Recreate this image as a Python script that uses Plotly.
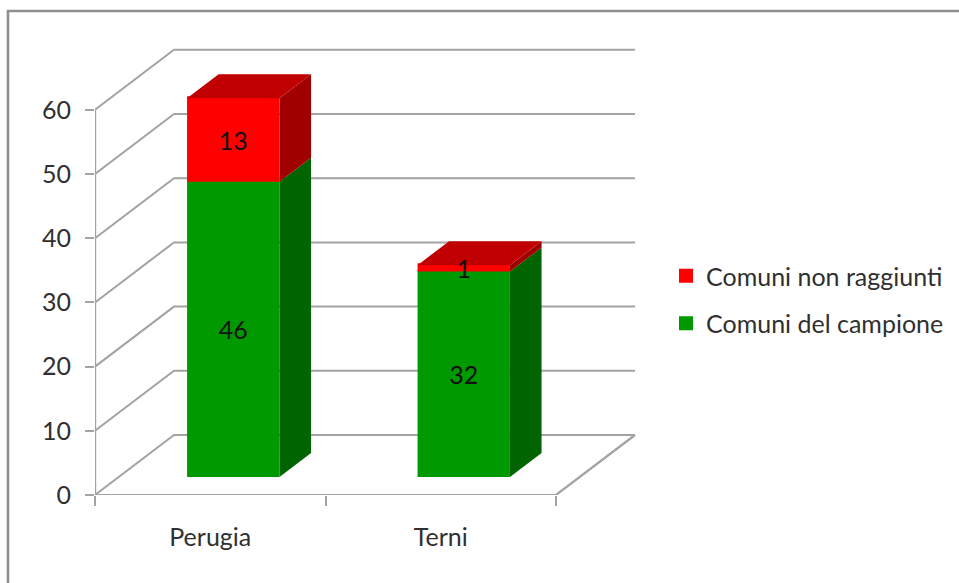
import plotly.graph_objects as go

categories = ["Perugia", "Terni"]
comuni_campione = [46, 32]
comuni_non_raggiunti = [13, 1]
y_ticks = [0, 10, 20, 30, 40, 50, 60]
names = ["Comuni del campione", "Comuni non raggiunti"]

W, H = 959, 583
L, R, T, B = 95, 640, 44, 495
PX_Y = 6.42          # pixels per value unit
PX_X = 230.5         # pixels per category
DX = 79 / PX_X       # depth offset (category units)
DY = 60 / PX_Y       # depth offset (value units)
D0, D1 = 0.30, 0.70  # bar depth extent
FACE_W = 0.401
BAR_W = 0.392        # drawn with a 2 px outline, so it covers FACE_W
EDGE = 0.15          # half the outline, in value units
LABEL_DROP = 0.6
FONT = "Lato"
GRID = "#a3a3a3"
TXT = "#303030"
xr = [-0.5, -0.5 + (R - L) / PX_X]
yr = [0, (B - T) / PX_Y]
ox = DX * D0 - 0.7 / PX_X
oy = DY * D0
bdx = DX * (D1 - D0)
bdy = DY * (D1 - D0)

fig = go.Figure()

# walls, floor and gridlines
for v in y_ticks:
    fig.add_trace(go.Scatter(x=[-0.5, -0.5 + DX, 1.5 + DX], y=[v, v + DY, v + DY], mode="lines",
                             line=dict(color=GRID, width=2), showlegend=False, hoverinfo="skip", cliponaxis=False))
fig.add_trace(go.Scatter(x=[-0.5, -0.5], y=[0, y_ticks[-1]], mode="lines",
                         line=dict(color=GRID, width=2.4), showlegend=False, hoverinfo="skip", cliponaxis=False))
fig.add_trace(go.Scatter(x=[-0.5, 1.5, 1.5 + DX], y=[0, 0, DY], mode="lines",
                         line=dict(color=GRID, width=2.2), showlegend=False, hoverinfo="skip", cliponaxis=False))

# front faces
xs = [i + ox for i in range(len(categories))]
fig.add_trace(go.Bar(x=xs, y=comuni_campione, base=[oy + EDGE] * 2, width=BAR_W, name=names[0],
                     marker=dict(color="#009900", line=dict(color="#009900", width=2)), xaxis="x2", yaxis="y2",
                     legendgroup="a", legendrank=2, hoverinfo="skip"))
fig.add_trace(go.Bar(x=xs, y=comuni_non_raggiunti, base=[oy + EDGE + v for v in comuni_campione], width=BAR_W,
                     name=names[1],
                     marker=dict(color="#ff0000", line=dict(color="#ff0000", width=2)), xaxis="x2", yaxis="y2",
                     legendgroup="b", legendrank=1, hoverinfo="skip"))


def face(xv, yv, color):
    fig.add_trace(go.Scatter(x=xv, y=yv, fill="toself", fillcolor=color, mode="lines", line=dict(width=0),
                             xaxis="x2", yaxis="y2", showlegend=False, hoverinfo="skip"))


for i, x in enumerate(xs):
    xr_edge = x + FACE_W / 2
    xl_edge = x - FACE_W / 2
    a = oy
    b = oy + comuni_campione[i]
    c = b + comuni_non_raggiunti[i]
    face([xr_edge, xr_edge + bdx, xr_edge + bdx, xr_edge], [a, a + bdy, b + bdy, b], "#006400")
    face([xr_edge, xr_edge + bdx, xr_edge + bdx, xr_edge], [b, b + bdy, c + bdy, c], "#a00000")
    face([xl_edge, xl_edge + bdx, xr_edge + bdx, xr_edge], [c, c + bdy, c + bdy, c], "#c00000")

# data labels
lx, ly, lt = [], [], []
for i, x in enumerate(xs):
    lx += [x, x]
    ly += [oy + comuni_campione[i] / 2 - LABEL_DROP,
           oy + comuni_campione[i] + comuni_non_raggiunti[i] / 2 - LABEL_DROP]
    lt += [str(comuni_campione[i]), str(comuni_non_raggiunti[i])]
fig.add_trace(go.Scatter(x=lx, y=ly, text=lt, mode="text", textposition="middle center",
                         textfont=dict(family=FONT, size=25, color="#111111"),
                         xaxis="x2", yaxis="y2", showlegend=False, hoverinfo="skip"))

fig.update_layout(
    width=W, height=H, autosize=False,
    margin=dict(l=L, r=W - R, t=T, b=H - B, autoexpand=False),
    paper_bgcolor="white", plot_bgcolor="white",
    barmode="overlay",
    font=dict(family=FONT, size=25, color=TXT),
    xaxis=dict(range=xr, showgrid=False, zeroline=False, showline=False,
               tickmode="array", tickvals=list(range(len(categories))), ticktext=categories,
               ticks="", ticklabelstandoff=25,
               minor=dict(tickmode="array", tickvals=[-0.5, 0.5, 1.5], ticks="outside",
                          ticklen=10, tickwidth=2.4, tickcolor=GRID, showgrid=False)),
    yaxis=dict(range=yr, showgrid=False, zeroline=False, showline=False,
               tickmode="array", tickvals=y_ticks, ticks="outside", ticklen=9, tickwidth=2.4,
               tickcolor=GRID, ticklabelstandoff=9),
    xaxis2=dict(range=xr, overlaying="x", visible=False),
    yaxis2=dict(range=yr, overlaying="y", visible=False),
    legend=dict(x=(666 - L) / (R - L), y=(B - 253) / (B - T), xanchor="left", yanchor="top",
                traceorder="grouped", tracegroupgap=12, itemwidth=30,
                bgcolor="rgba(0,0,0,0)", font=dict(family=FONT, size=25, color=TXT)),
    shapes=[dict(type="path", xref="paper", yref="paper",
                 path="M {} {} L {} {} L {} {}".format((8 - L) / (R - L), (B - H - 5) / (B - T),
                                                       (8 - L) / (R - L), (B - 11) / (B - T),
                                                       (W + 5 - L) / (R - L), (B - 11) / (B - T)),
                 line=dict(color="#8f8f8f", width=2.6))],
)
fig.write_html("out.html", config=dict(displayModeBar=False),
               post_script="document.body.style.margin='0';document.body.style.overflow='hidden';")
